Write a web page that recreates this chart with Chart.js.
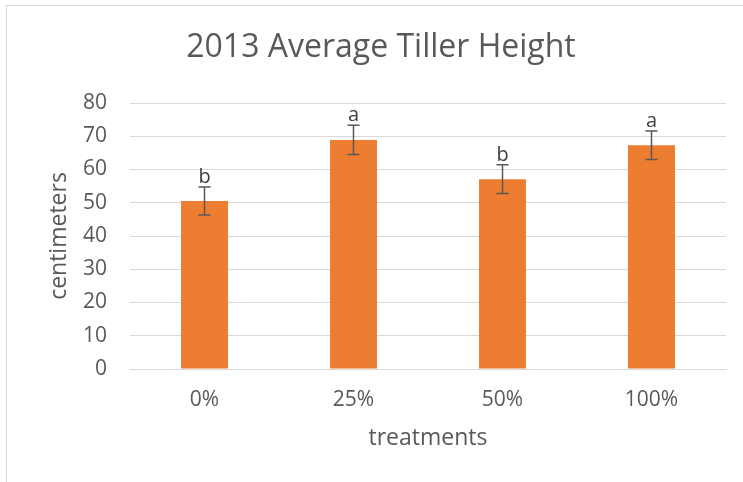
<!DOCTYPE html>
<html><head><meta charset="utf-8">
<script src="https://cdn.jsdelivr.net/npm/chart.js@4"></script>
<style>html,body{margin:0;padding:0;background:#fff}#wrap{width:743px;height:482px;position:relative}</style>
</head><body><div id="wrap"><canvas id="c" width="743" height="482"></canvas></div>
<script>
const categories = ['0%', '25%', '50%', '100%'];
const heights = [50.5, 68.9, 57.1, 67.3];
const errors = [4.2, 4.4, 4.3, 4.3];
const letters = ['b', 'a', 'b', 'a'];
const yTicks = [0, 10, 20, 30, 40, 50, 60, 70, 80];

const FONT = "'Open Sans', 'Liberation Sans', sans-serif";
const GRAY = '#595959';

const framePlugin = {
  id: 'frame',
  beforeDraw(chart) {
    const ctx = chart.ctx;
    ctx.save();
    ctx.fillStyle = '#fff';
    ctx.fillRect(0, 0, chart.width, chart.height);
    ctx.strokeStyle = '#d9d9d9';
    ctx.lineWidth = 1;
    ctx.strokeRect(6.5, 5.5, chart.width + 10, chart.height + 10);
    ctx.restore();
  }
};

const errPlugin = {
  id: 'errbars',
  afterDatasetsDraw(chart) {
    const ctx = chart.ctx;
    const meta = chart.getDatasetMeta(0);
    const y = chart.scales.y;
    ctx.save();
    meta.data.forEach((bar, i) => {
      const x = bar.x;
      const yt = y.getPixelForValue(heights[i] + errors[i]);
      const yb = y.getPixelForValue(heights[i] - errors[i]);
      ctx.strokeStyle = GRAY;
      ctx.lineWidth = 1.5;
      ctx.beginPath();
      ctx.moveTo(x, yt); ctx.lineTo(x, yb);
      ctx.moveTo(x - 6, yt); ctx.lineTo(x + 6, yt);
      ctx.moveTo(x - 6, yb); ctx.lineTo(x + 6, yb);
      ctx.stroke();
      ctx.fillStyle = '#404040';
      ctx.font = '20px ' + FONT;
      ctx.textAlign = 'center';
      ctx.textBaseline = 'alphabetic';
      ctx.fillText(letters[i], x, yt - 4);
    });
    ctx.restore();
  }
};

new Chart(document.getElementById('c'), {
  type: 'bar',
  data: {
    labels: categories,
    datasets: [{
      data: heights,
      backgroundColor: '#ED7D31',
      borderWidth: 0,
      barPercentage: 0.63,
      categoryPercentage: 0.5
    }]
  },
  plugins: [framePlugin, errPlugin],
  options: {
    responsive: false,
    animation: false,
    devicePixelRatio: 1,
    layout: { padding: { left: 36, right: 17, top: 0, bottom: 30 } },
    plugins: {
      legend: { display: false },
      tooltip: { enabled: false },
      title: {
        display: true,
        text: '2013 Average Tiller Height',
        color: GRAY,
        font: { family: FONT, size: 32, weight: 'normal', lineHeight: 1.2 },
        padding: { top: 29, bottom: 35.6 }
      }
    },
    scales: {
      x: {
        afterFit(scale) { scale.height = 83; },
        grid: { display: false, drawTicks: false },
        border: { display: true, color: '#d9d9d9', width: 1 },
        ticks: { color: GRAY, font: { family: FONT, size: 21 }, padding: 18 },
        title: { display: true, text: 'treatments', color: GRAY,
                 font: { family: FONT, size: 23 }, padding: { top: 10, bottom: 0 } }
      },
      y: {
        min: 0, max: 80,
        afterBuildTicks(scale) { scale.ticks = yTicks.map(v => ({ value: v })); },
        afterFit(scale) { scale.width = 94; },
        grid: { color: '#d9d9d9', drawTicks: false },
        border: { display: false },
        ticks: { color: GRAY, font: { family: FONT, size: 21 }, padding: 23 },
        title: { display: true, text: 'centimeters', color: GRAY,
                 font: { family: FONT, size: 23 }, padding: { top: 10, bottom: 0 } }
      }
    }
  }
});
</script></body></html>
